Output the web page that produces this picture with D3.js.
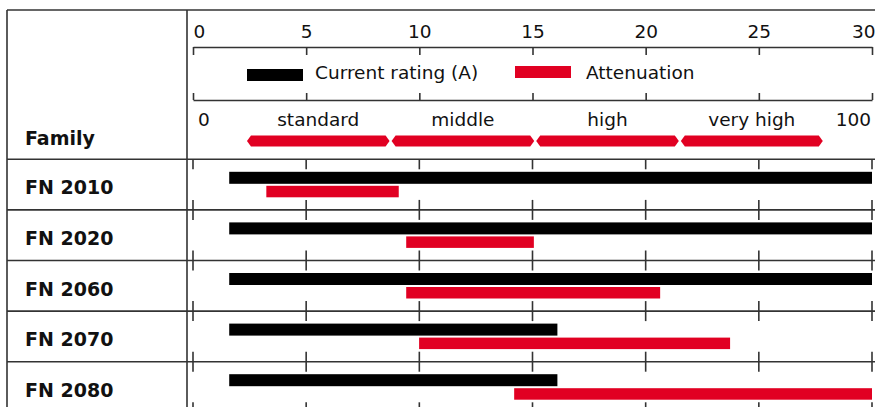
<!DOCTYPE html>
<meta charset="utf-8">
<style>
body { margin: 0; background: #fff; }
text { font-family: "DejaVu Sans", sans-serif; fill: #111; }
.grid line, .grid path { stroke: #333; stroke-width: 1.6; }
</style>
<body>
<script src="https://d3js.org/d3.v7.min.js"></script>
<script>

var width = 875, height = 407;

// data
var families = ["FN 2010", "FN 2020", "FN 2060", "FN 2070", "FN 2080"];
var currentFrom = [1.6, 1.6, 1.6, 1.6, 1.6];
var currentTo = [30, 30, 30, 16.1, 16.1];
var attFrom = [10.8, 31.4, 31.4, 33.3, 47.3];
var attTo = [30.3, 50.2, 68.8, 79.1, 100];
var currentTicks = [0, 5, 10, 15, 20, 25, 30];
var attBands = ["standard", "middle", "high", "very high"];
var attBandEdges = [7.8, 29.1, 50.4, 71.7, 92.9];

var red = "#e10022";

var svg = d3.select("body").append("svg")
    .attr("width", width)
    .attr("height", height);

var x = d3.scaleLinear().domain([0, 30]).range([193, 872]);
var xa = d3.scaleLinear().domain([0, 100]).range([193, 872]);

var y = d3.scaleBand()
    .domain(families)
    .range([159.3, 159.3 + 5 * 50.6]);

var grid = svg.append("g").attr("class", "grid");

// frame
grid.append("line").attr("x1", 7).attr("x2", width).attr("y1", 10).attr("y2", 10);
grid.append("line").attr("x1", 7).attr("x2", 7).attr("y1", 10).attr("y2", height);
grid.append("line").attr("x1", 187).attr("x2", 187).attr("y1", 10).attr("y2", height);

// row separators with ticks
var seps = d3.range(families.length + 1).map(function(i) { return y.range()[0] + i * y.step(); });
seps.forEach(function(sy, i) {
    grid.append("line").attr("x1", 7).attr("x2", width).attr("y1", sy).attr("y2", sy);
    grid.selectAll(null)
        .data(currentTicks)
      .enter().append("line")
        .attr("x1", function(d) { return x(d); })
        .attr("x2", function(d) { return x(d); })
        .attr("y1", i == 0 ? sy : sy - 10)
        .attr("y2", sy + 10);
});

// top axis (current)
var topAxis = svg.append("g")
    .attr("class", "grid")
    .attr("transform", "translate(0,47)")
    .call(d3.axisBottom(x).tickValues(currentTicks).tickSize(8).tickSizeOuter(0));

topAxis.selectAll("text")
    .attr("y", -9)
    .attr("dy", 0)
    .style("font-size", "18.5px")
    .attr("text-anchor", function(d, i) {
        return i == 0 ? "start" : (i == currentTicks.length - 1 ? "end" : "middle");
    })
    .attr("dx", function(d, i) { return i == 0 ? 0 : (i == currentTicks.length - 1 ? 3 : 0); });
topAxis.selectAll(".tick text").attr("fill", "#111");

// second axis line (attenuation)
svg.append("g")
    .attr("class", "grid")
    .attr("transform", "translate(0,100)")
    .call(d3.axisTop(x).tickValues(currentTicks).tickSize(7).tickSizeOuter(0).tickFormat(""));

// legend
svg.append("rect").attr("x", 247).attr("y", 69).attr("width", 56).attr("height", 12).attr("fill", "#000");
svg.append("text").attr("x", 315).attr("y", 79).style("font-size", "18.5px").text("Current rating (A)");
svg.append("rect").attr("x", 515).attr("y", 66).attr("width", 56).attr("height", 12).attr("fill", red);
svg.append("text").attr("x", 586).attr("y", 79).style("font-size", "18.5px").text("Attenuation");

// attenuation scale labels
svg.append("text").attr("x", xa(0) + 5).attr("y", 126).style("font-size", "18.5px").text("0");
svg.append("text").attr("x", xa(100) - 1).attr("y", 126).attr("text-anchor", "end").style("font-size", "18.5px").text("100");

var bands = attBands.map(function(name, i) {
    return { name: name, from: attBandEdges[i], to: attBandEdges[i + 1] };
});

svg.selectAll(".band-label")
    .data(bands)
  .enter().append("text")
    .attr("class", "band-label")
    .attr("x", function(d) { return (xa(d.from) + xa(d.to)) / 2; })
    .attr("y", 126)
    .attr("text-anchor", "middle")
    .style("font-size", "18.5px")
    .text(function(d) { return d.name; });

var bt = 135.5, bh = 11, tip = 4;
svg.selectAll(".band")
    .data(bands)
  .enter().append("path")
    .attr("class", "band")
    .attr("fill", red)
    .attr("d", function(d) {
        var a = xa(d.from) + 1, b = xa(d.to) - 1, m = bt + bh / 2;
        return "M" + a + "," + m + "L" + (a + tip) + "," + bt + "L" + (b - tip) + "," + bt +
            "L" + b + "," + m + "L" + (b - tip) + "," + (bt + bh) + "L" + (a + tip) + "," + (bt + bh) + "Z";
    });

// header
svg.append("text").attr("x", 25).attr("y", 145).style("font-size", "19px").style("font-weight", "bold").text("Family");

// rows
var row = svg.selectAll(".row")
    .data(families)
  .enter().append("g")
    .attr("class", "row")
    .attr("transform", function(d) { return "translate(0," + y(d) + ")"; });

row.append("text")
    .attr("x", 25)
    .attr("y", 35)
    .style("font-size", "19px")
    .style("font-weight", "bold")
    .text(function(d) { return d; });

row.append("rect")
    .attr("x", function(d, i) { return x(currentFrom[i]); })
    .attr("width", function(d, i) { return x(currentTo[i]) - x(currentFrom[i]); })
    .attr("y", 12.5)
    .attr("height", 12)
    .attr("fill", "#000");

row.append("rect")
    .attr("x", function(d, i) { return xa(attFrom[i]); })
    .attr("width", function(d, i) { return xa(attTo[i]) - xa(attFrom[i]); })
    .attr("y", 26.5)
    .attr("height", 11.5)
    .attr("fill", red);

</script>
